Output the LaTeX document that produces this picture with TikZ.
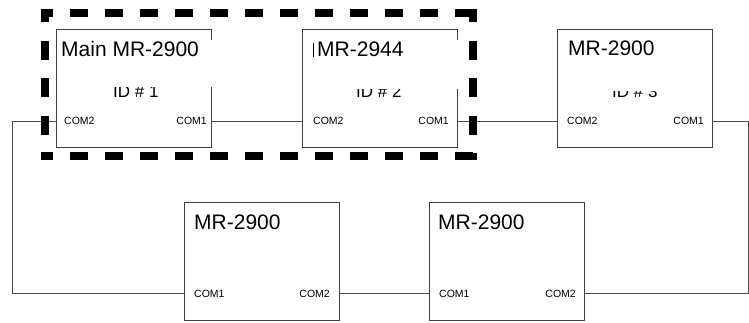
\documentclass[tikz,border=0pt]{standalone}
\usepackage{fontspec}
\setmainfont{Liberation Sans}
\begin{document}
\begin{tikzpicture}[x=1pt,y=-1pt,
  box/.style={draw=black!75,line width=0.9pt,rectangle,minimum width=155pt,minimum height=118pt,inner sep=0pt,fill=white},
  wire/.style={draw=black!70,line width=0.9pt},
  title/.style={anchor=base west,inner sep=0pt,font=\fontsize{21}{24}\selectfont},
  portw/.style={anchor=base west,inner sep=0pt,font=\fontsize{10.5}{12}\selectfont},
  porte/.style={anchor=base east,inner sep=0pt,font=\fontsize{10.5}{12}\selectfont},
  idtext/.style={anchor=base west,inner sep=0pt,font=\fontsize{17}{19}\selectfont},
  hside/.style={line width=8pt,black,dash pattern=on 18pt off 17pt,dash phase=6pt},
  vside/.style={line width=8pt,black,dash pattern=on 19pt off 18.5pt,dash phase=6pt}
]
\useasboundingbox (0,0) rectangle (749,322);
% boxes
\node[box] (b1) at (134,88) {};
\node[box] (b2) at (379.5,88) {};
\node[box] (b3) at (634.5,88) {};
\node[box] (d1) at (261.5,261) {};
\node[box] (d2) at (507,261) {};
% partially hidden ID labels
\node[idtext] (id1) at (113,97) {ID \# 1};
\node[idtext] (id2) at (356,97) {ID \# 2};
\node[idtext] (id3) at (612,97) {ID \# 3};
\fill[white] (100,40) rectangle (213,86.5);
\fill[white] (340,40) rectangle (459,89);
\fill[white] (600,40) rectangle (700,90.5);
% titles
\node[title] (t1) at (61,56) {Main MR-2900};
\node[title] (t2) at (317,56) {MR-2944};
\node[title] (t3) at (568,55) {MR-2900};
\node[title] (t4) at (194,229) {MR-2900};
\node[title] (t5) at (438,229) {MR-2900};
\draw[line width=0.8pt] (313,43) -- (313,57);
% port labels
\node[portw] (p1) at (64,124) {COM2};
\node[porte] (p2) at (207,124) {COM1};
\node[portw] (p3) at (313,124) {COM2};
\node[porte] (p4) at (449,124) {COM1};
\node[portw] (p5) at (567,124) {COM2};
\node[porte] (p6) at (704,124) {COM1};
\node[portw] (p7) at (194,297) {COM1};
\node[porte] (p8) at (330,297) {COM2};
\node[portw] (p9) at (439,297) {COM1};
\node[porte] (p10) at (576,297) {COM2};
% connection points
\coordinate (b1w) at ([yshift=-33pt]b1.west);
\coordinate (b1e) at ([yshift=-33pt]b1.east);
\coordinate (b2w) at ([yshift=-33pt]b2.west);
\coordinate (b2e) at ([yshift=-33pt]b2.east);
\coordinate (b3w) at ([yshift=-33pt]b3.west);
\coordinate (b3e) at ([yshift=-33pt]b3.east);
\coordinate (d1w) at ([yshift=-32pt]d1.west);
\coordinate (d1e) at ([yshift=-32pt]d1.east);
\coordinate (d2w) at ([yshift=-32pt]d2.west);
\coordinate (d2e) at ([yshift=-32pt]d2.east);
\coordinate (lc) at (12,293);
\coordinate (rc) at (748,293);
% wires
\draw[wire] (b1w) -| (lc) -- (d1w);
\draw[wire] (b1e) -- (b2w);
\draw[wire] (b2e) -- (b3w);
\draw[wire] (b3e) -| (rc) -- (d2e);
\draw[wire] (d1e) -- (d2w);
% dashed group frame
\draw[hside] (41,13) -- (476.5,13);
\draw[hside] (41,156) -- (476.5,156);
\draw[vside] (45,9) -- (45,160);
\draw[vside] (472.5,9) -- (472.5,160);
\end{tikzpicture}
\end{document}
